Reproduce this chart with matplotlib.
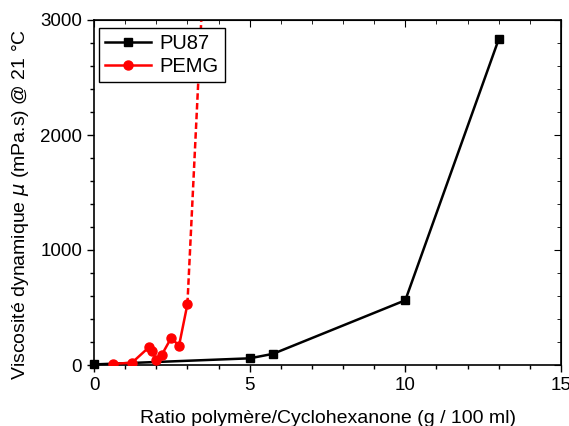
import matplotlib
matplotlib.use("Agg")
import matplotlib.pyplot as plt
from matplotlib.ticker import MultipleLocator

pu87_x = [0.0, 5.0, 5.75, 10.0, 13.0]
pu87_y = [5, 58, 97, 563, 2833]

pemg_x = [0.62, 1.22, 1.78, 1.87, 2.0, 2.18, 2.48, 2.73, 3.0]
pemg_y = [10, 20, 158, 122, 43, 90, 236, 167, 528]

pemg_ext_x = [3.0, 3.5]
pemg_ext_y = [528, 3300]

plt.rcParams['font.family'] = ['Liberation Sans', 'DejaVu Sans']
plt.rcParams['mathtext.fontset'] = 'dejavusans'

fig = plt.figure(figsize=(5.69, 4.26), dpi=100)
ax = fig.add_axes([94/569, 1-365/426, (561-94)/569, (365-20)/426])

ax.plot(pemg_ext_x, pemg_ext_y, color='red', lw=1.8, dashes=(2.6, 1.3), zorder=2)
ax.plot(pu87_x, pu87_y, color='black', lw=1.8, marker='s', ms=5.5, label='PU87', zorder=3, clip_on=False)
ax.plot(pemg_x, pemg_y, color='red', lw=1.8, marker='o', ms=6.5, label='PEMG', zorder=3)

ax.set_xlim(0, 15)
ax.set_ylim(0, 3000)
ax.xaxis.set_major_locator(MultipleLocator(5))
ax.xaxis.set_minor_locator(MultipleLocator(1))
ax.yaxis.set_major_locator(MultipleLocator(1000))
ax.yaxis.set_minor_locator(MultipleLocator(200))

ax.tick_params(which='both', direction='out', labelsize=13.5, width=1)
ax.tick_params(which='major', length=5)
ax.tick_params(which='minor', length=3)
for sp in ax.spines.values():
    sp.set_linewidth(1.2)

# mirrored inward ticks on top/right
axt = ax.secondary_xaxis('top')
axt.xaxis.set_major_locator(MultipleLocator(5))
axt.xaxis.set_minor_locator(MultipleLocator(1))
axt.tick_params(which='both', direction='in', labeltop=False)
axt.tick_params(which='major', length=5)
axt.tick_params(which='minor', length=3)
axr = ax.secondary_yaxis('right')
axr.yaxis.set_major_locator(MultipleLocator(1000))
axr.yaxis.set_minor_locator(MultipleLocator(200))
axr.tick_params(which='both', direction='in', labelright=False)
axr.tick_params(which='major', length=5)
axr.tick_params(which='minor', length=3)

ax.set_xlabel('Ratio polymère/Cyclohexanone (g / 100 ml)', fontsize=14, labelpad=12)
ax.set_ylabel(r'Viscosité dynamique $\mu$ (mPa.s) @ 21 °C', fontsize=14, labelpad=6)
ax.yaxis.set_label_coords(-0.135, 0.465)

leg = ax.legend(loc='upper left', bbox_to_anchor=(0.0107, 0.977), borderaxespad=0,
                fontsize=14.5, frameon=True, fancybox=False,
                edgecolor='black', framealpha=1, handlelength=2.3,
                borderpad=0.3, labelspacing=0.2, handletextpad=0.4)
leg.get_frame().set_linewidth(1)
leg.set_zorder(10)

fig.savefig('out.png', dpi=100)
